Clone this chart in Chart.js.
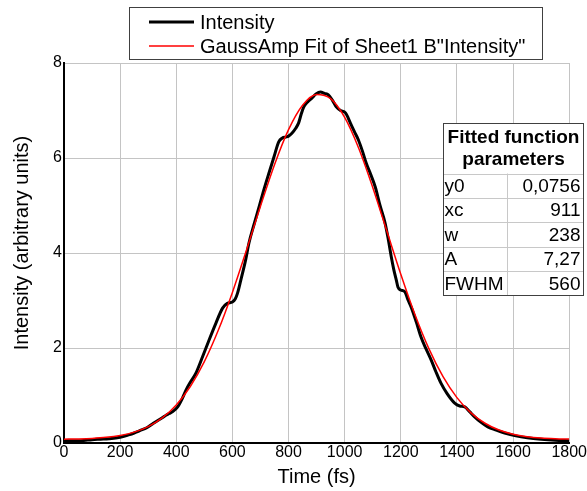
<!DOCTYPE html>
<html>
<head>
<meta charset="utf-8">
<script src="https://cdn.jsdelivr.net/npm/chart.js@4/dist/chart.umd.min.js"></script>
<style>
  html, body { margin: 0; padding: 0; background: #fff; }
  #wrap { width: 587px; height: 491px; position: relative; }
</style>
</head>
<body>
<div id="wrap"><canvas id="c" width="587" height="491"></canvas></div>
<script>
// ---- data ----
const timeFs = [0, 30, 60, 100, 130, 160, 200, 230, 250, 270, 295, 315, 330, 350, 365, 375, 387, 405, 420, 435, 450, 470, 494, 517, 541, 565, 582, 600, 610, 618, 630, 647, 659, 677, 695, 712, 730, 748, 765, 778, 790, 800, 812, 825, 836, 845, 854, 868, 883, 898, 914, 928, 942, 956, 971, 985, 1003, 1012, 1020, 1035, 1049, 1063, 1077, 1093, 1109, 1126, 1144, 1155, 1166, 1175, 1184, 1190, 1200, 1215, 1225, 1237, 1255, 1272, 1290, 1308, 1325, 1343, 1365, 1392, 1410, 1428, 1445, 1463, 1485, 1510, 1540, 1570, 1610, 1651, 1700, 1750, 1800];
const intensity = [0.05, 0.05, 0.05, 0.07, 0.08, 0.09, 0.12, 0.17, 0.21, 0.26, 0.32, 0.40, 0.46, 0.53, 0.59, 0.62, 0.66, 0.76, 0.92, 1.12, 1.28, 1.47, 1.82, 2.17, 2.52, 2.84, 2.94, 2.97, 3.03, 3.15, 3.43, 3.85, 4.21, 4.60, 4.97, 5.33, 5.68, 6.02, 6.34, 6.42, 6.44, 6.46, 6.52, 6.62, 6.74, 6.92, 7.07, 7.18, 7.26, 7.35, 7.39, 7.36, 7.33, 7.22, 7.07, 7.00, 6.95, 6.85, 6.74, 6.55, 6.38, 6.15, 5.89, 5.65, 5.39, 5.00, 4.63, 4.30, 3.92, 3.65, 3.43, 3.28, 3.22, 3.18, 3.02, 2.86, 2.55, 2.23, 1.98, 1.75, 1.50, 1.26, 1.04, 0.84, 0.78, 0.76, 0.66, 0.55, 0.44, 0.34, 0.27, 0.21, 0.15, 0.11, 0.08, 0.06, 0.05];
const fitTime = [0, 50, 100, 150, 200, 250, 300, 350, 400, 450, 500, 550, 600, 650, 700, 750, 800, 850, 900, 950, 1000, 1050, 1100, 1150, 1200, 1250, 1300, 1350, 1400, 1450, 1500, 1550, 1600, 1650, 1700, 1750, 1800];
const fitValues = [0.080, 0.086, 0.097, 0.119, 0.160, 0.229, 0.345, 0.528, 0.801, 1.189, 1.712, 2.377, 3.171, 4.060, 4.983, 5.859, 6.596, 7.111, 7.338, 7.249, 6.855, 6.206, 5.380, 4.467, 3.554, 2.712, 1.988, 1.402, 0.956, 0.635, 0.416, 0.273, 0.186, 0.134, 0.105, 0.090, 0.082];
const seriesNames = ['Intensity', 'GaussAmp Fit of Sheet1 B"Intensity"'];
const paramTitle = ['Fitted function', 'parameters'];
const paramNames = ['y0', 'xc', 'w', 'A', 'FWHM'];
const paramValues = ['0,0756', '911', '238', '7,27', '560'];
const xRange = [0, 1800, 200];
const yRange = [0, 8, 2];
const xTitle = 'Time (fs)';
const yTitle = 'Intensity (arbitrary units)';

const FONT = "Arial, 'Liberation Sans', sans-serif";

const boxesPlugin = {
  id: 'boxes',
  afterDraw(chart) {
    const ctx = chart.ctx;
    ctx.save();
    // y axis title
    ctx.fillStyle = '#000';
    ctx.font = '20px ' + FONT;
    ctx.textAlign = 'center';
    ctx.textBaseline = 'middle';
    ctx.translate(22, 243);
    ctx.rotate(-Math.PI / 2);
    ctx.fillText(yTitle, 0, 0);
    ctx.setTransform(1, 0, 0, 1, 0, 0);
    // legend box
    const lx = 129.5, ly = 7.5, lw = 413, lh = 52;
    ctx.fillStyle = '#fff';
    ctx.fillRect(lx, ly, lw, lh);
    ctx.strokeStyle = '#404040';
    ctx.lineWidth = 1;
    ctx.strokeRect(lx, ly, lw, lh);
    ctx.font = '20px ' + FONT;
    ctx.textBaseline = 'middle';
    ctx.textAlign = 'left';
    const rowsY = [22, 46];
    chart.data.datasets.forEach((ds, i) => {
      ctx.strokeStyle = ds.borderColor;
      ctx.lineWidth = ds.borderWidth;
      ctx.beginPath();
      ctx.moveTo(149, rowsY[i]);
      ctx.lineTo(194, rowsY[i]);
      ctx.stroke();
      ctx.fillStyle = '#000';
      ctx.fillText(ds.label, 200, rowsY[i] + 1);
    });
    // parameter table
    const tx = 443.5, ty = 123.5, tw = 140, titleH = 50, rowH = 24.4, colX = 507.5;
    const th = titleH + rowH * paramNames.length;
    ctx.fillStyle = '#fff';
    ctx.fillRect(tx, ty, tw, th);
    ctx.strokeStyle = '#c8c8c8';
    ctx.lineWidth = 1;
    for (let i = 0; i < paramNames.length; i++) {
      const yy = Math.round(ty + titleH + rowH * i) + 0.5;
      ctx.beginPath(); ctx.moveTo(tx, yy); ctx.lineTo(tx + tw, yy); ctx.stroke();
    }
    ctx.beginPath(); ctx.moveTo(colX, ty + titleH); ctx.lineTo(colX, ty + th); ctx.stroke();
    ctx.strokeStyle = '#404040';
    ctx.strokeRect(tx, ty, tw, th);
    ctx.fillStyle = '#000';
    ctx.font = 'bold 19px ' + FONT;
    ctx.textAlign = 'center';
    paramTitle.forEach((t, i) => ctx.fillText(t, tx + tw / 2, ty + 14 + i * 22));
    ctx.font = '19px ' + FONT;
    paramNames.forEach((n, i) => {
      const cy = ty + titleH + rowH * i + rowH / 2 + 1;
      ctx.textAlign = 'left';
      ctx.fillText(n, tx + 1, cy);
      ctx.textAlign = 'right';
      ctx.fillText(paramValues[i], tx + tw - 3, cy);
    });
    ctx.restore();
  }
};

new Chart(document.getElementById('c'), {
  type: 'line',
  data: {
    datasets: [
      {
        label: seriesNames[0],
        data: timeFs.map((t, i) => ({ x: t, y: intensity[i] })),
        borderColor: '#000000',
        borderWidth: 3,
        pointRadius: 0,
        cubicInterpolationMode: 'monotone',
        fill: false,
        order: 1
      },
      {
        label: seriesNames[1],
        data: fitTime.map((t, i) => ({ x: t, y: fitValues[i] })),
        borderColor: '#ff0000',
        borderWidth: 1.5,
        pointRadius: 0,
        cubicInterpolationMode: 'monotone',
        fill: false,
        order: 0
      }
    ]
  },
  options: {
    responsive: false,
    animation: false,
    events: [],
    layout: { padding: { top: 63, right: 15, left: 0, bottom: 0 } },
    plugins: { legend: { display: false }, tooltip: { enabled: false } },
    scales: {
      x: {
        type: 'linear',
        min: xRange[0], max: xRange[1],
        afterFit(s) { s.height = 48; },
        ticks: { stepSize: xRange[2], color: '#000', font: { family: FONT, size: 16 }, padding: 0, maxRotation: 0, autoSkip: false,
                 callback: (v) => String(v) },
        grid: { color: '#c4c4c4', lineWidth: 1, tickLength: 0, drawTicks: false },
        border: { color: '#000', width: 2 },
        title: { display: true, text: xTitle, color: '#000', font: { family: FONT, size: 20 }, padding: { top: 0, bottom: 2 } }
      },
      y: {
        type: 'linear',
        min: yRange[0], max: yRange[1],
        afterFit(s) { s.width = 64; },
        ticks: { stepSize: yRange[2], color: '#000', font: { family: FONT, size: 16 }, padding: 2,
                 callback: (v) => String(v) },
        grid: { color: '#c4c4c4', lineWidth: 1, tickLength: 0, drawTicks: false },
        border: { color: '#000', width: 2 },
        title: { display: false }
      }
    }
  },
  plugins: [boxesPlugin]
});
</script>
</body>
</html>
